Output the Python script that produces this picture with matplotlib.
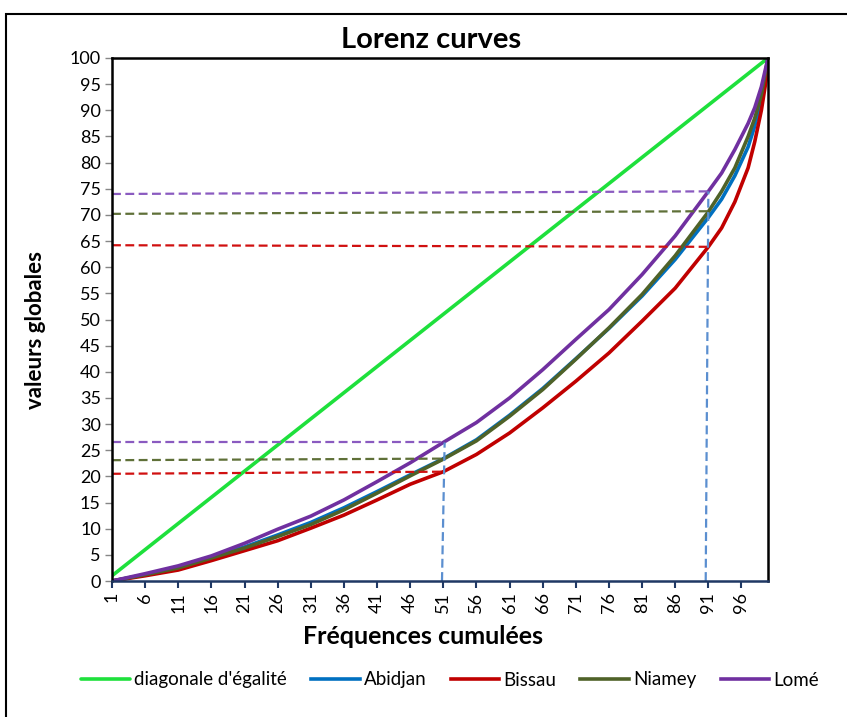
import matplotlib
matplotlib.use("Agg")
import matplotlib.pyplot as plt
from matplotlib.patches import Rectangle

# ---- data ----
cats = [1, 6, 11, 16, 21, 26, 31, 36, 41, 46, 51, 56, 61, 66, 71, 76, 81, 86,
        91, 93, 95, 97, 98, 99, 100]
lome = [0, 1.4, 2.9, 4.8, 7.2, 9.9, 12.4, 15.5, 19.0, 22.6, 26.5, 30.3, 35.0,
        40.4, 46.2, 51.9, 58.6, 66.0, 74.5, 78.0, 82.5, 87.5, 90.5, 94.5, 100]
niamey = [0, 1.2, 2.5, 4.4, 6.3, 8.5, 10.8, 13.6, 16.8, 20.1, 23.3, 26.8, 31.5,
          36.6, 42.4, 48.4, 54.8, 62.2, 70.6, 74.5, 79.0, 85.0, 88.5, 93.0, 100]
abidjan = [0, 1.2, 2.6, 4.5, 6.5, 8.8, 11.2, 14.0, 17.1, 20.3, 23.4, 27.0, 31.7,
           36.8, 42.5, 48.3, 54.5, 61.5, 69.5, 73.0, 77.5, 83.0, 87.0, 92.0, 100]
bissau = [0, 1.0, 2.1, 3.9, 5.8, 7.7, 10.1, 12.6, 15.5, 18.5, 20.9, 24.2, 28.3,
          33.1, 38.2, 43.6, 49.7, 56.0, 63.9, 67.5, 72.5, 79.0, 84.0, 90.0, 98.0]
diag_x = [1, 100]
diag_y = [1, 100]

# reference (dashed) lines: (x_start, y_start, x_end, y_end)
ref_lome_hi = (1, 74.0, 91, 74.5)
ref_niamey_hi = (1, 70.2, 91, 70.7)
ref_bissau_hi = (1, 64.2, 91, 63.9)
ref_lome_lo = (1, 26.5, 51, 26.5)
ref_niamey_lo = (1, 23.1, 51, 23.4)
ref_bissau_lo = (1, 20.5, 51, 20.9)
ref_v51 = (50.8, 0, 51.2, 26.5)
ref_v91 = (90.6, 0, 91.0, 74.5)

xticks = list(range(1, 101, 5))
yticks = list(range(0, 101, 5))

plt.rcParams['font.family'] = ['Lato', 'DejaVu Sans']

fig = plt.figure(figsize=(8.47, 7.17), dpi=100)
ax = fig.add_axes([112/847, 1-581/717, (768-112)/847, (581-58)/717])

c_green = '#1ee03c'
c_blue = '#0070c0'
c_red = '#c00000'
c_olive = '#4f6228'
c_purple = '#7030a0'
lw = 2.6

ax.plot(diag_x, diag_y, color=c_green, lw=lw, label="diagonale d'égalité", solid_capstyle='round')
ax.plot(cats, abidjan, color=c_blue, lw=lw, label='Abidjan')
ax.plot(cats, bissau, color=c_red, lw=lw, label='Bissau')
ax.plot(cats, niamey, color=c_olive, lw=lw, label='Niamey')
ax.plot(cats, lome, color=c_purple, lw=lw, label='Lomé')

def dline(r, color, lw=1.6):
    ax.plot([r[0], r[2]], [r[1], r[3]], color=color, lw=lw, ls=(0, (4, 2)))

dline(ref_lome_hi, '#8a5ac0')
dline(ref_niamey_hi, '#5f7038')
dline(ref_bissau_hi, '#d01010')
dline(ref_lome_lo, '#8a5ac0')
dline(ref_niamey_lo, '#5f7038')
dline(ref_bissau_lo, '#d01010')
dline(ref_v51, '#5b8fd0', lw=1.6)
dline(ref_v91, '#5b8fd0', lw=1.6)

ax.set_xlim(1, 100)
ax.set_ylim(0, 100)
ax.set_xticks(xticks)
ax.set_xticklabels([str(t) for t in xticks], rotation=90, fontsize=13)
ax.set_yticks(yticks)
ax.set_yticklabels([str(t) for t in yticks], fontsize=13)
ax.tick_params(axis='x', length=5, width=1.5, color='#1f3864', direction='out', pad=3)
ax.tick_params(axis='y', length=5, width=1, color='#868686', direction='out', pad=3)

for s in ['left', 'top', 'right']:
    ax.spines[s].set_color('black')
    ax.spines[s].set_linewidth(1.8)
ax.spines['bottom'].set_color('#1f3864')
ax.spines['bottom'].set_linewidth(1.8)

fig.text(431/847, 1-40/717, 'Lorenz curves', ha='center', va='center',
         fontsize=21, fontweight='bold')
fig.text(35/847, 1-330/717, 'valeurs globales', ha='center', va='center',
         rotation=90, fontsize=16, fontweight='bold')
fig.text(423/847, 1-637/717, 'Fréquences cumulées', ha='center', va='center',
         fontsize=18, fontweight='bold')

handles, labels = ax.get_legend_handles_labels()
fig.legend(handles, labels, loc='center', bbox_to_anchor=(450/847, 1-680/717),
           ncol=5, frameon=False, fontsize=13.5, handlelength=2.6,
           handletextpad=0.2, columnspacing=1.3)

fig.patches.append(Rectangle((6/847, -0.1), 1.2, 1-14/717 + 0.1,
                             transform=fig.transFigure, fill=False,
                             edgecolor='black', lw=1.5))

fig.savefig('out.png', dpi=100)
